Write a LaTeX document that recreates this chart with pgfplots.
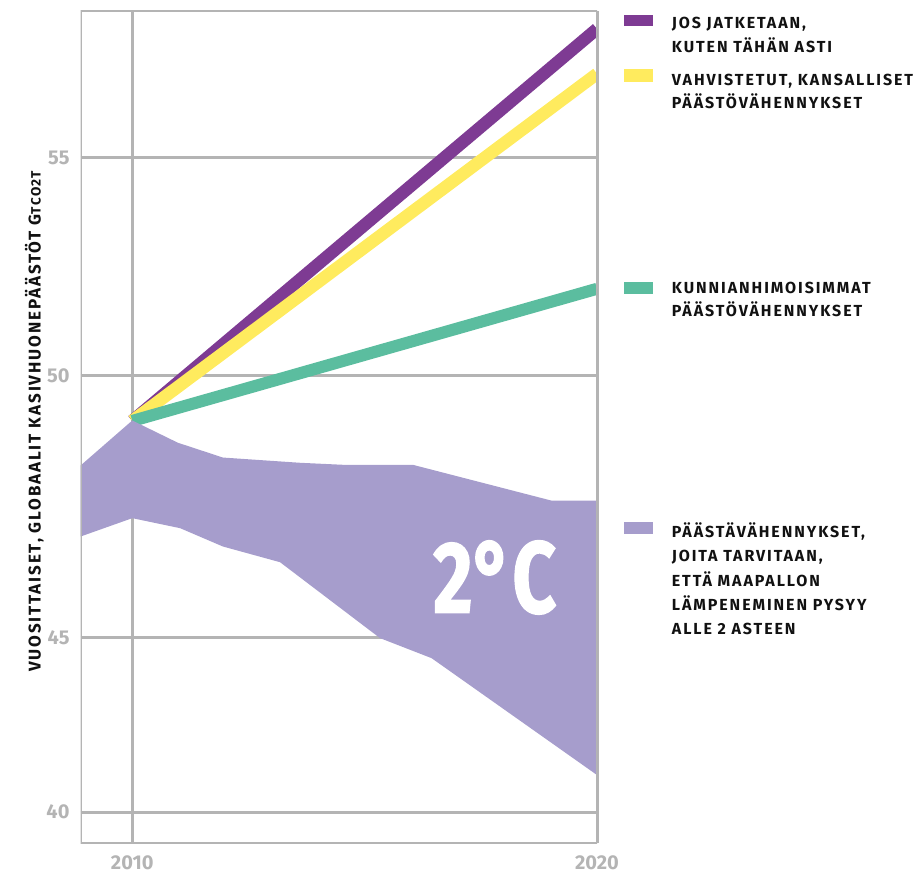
\documentclass[border=0pt]{standalone}
\usepackage{fontspec}
\setmainfont{Fira Sans}
\newfontfamily\lgfont{Fira Sans}[LetterSpace=12]
\newfontfamily\ttlfont{Fira Sans}[LetterSpace=11]
\newfontfamily\heavyfont{Fira Sans}[BoldFeatures={FakeBold=1.5}]
\usepackage{pgfplots}
\pgfplotsset{compat=1.18}

\definecolor{cPurple}{HTML}{7E3B93}
\definecolor{cYellow}{HTML}{FFEB5E}
\definecolor{cGreen}{HTML}{5BBD9F}
\definecolor{cArea}{HTML}{A69DCC}
\definecolor{cGray}{HTML}{B4B4B4}
\definecolor{cText}{HTML}{111111}

\newcommand\lgd{\fontsize{16}{16}\selectfont\bfseries\lgfont\color{cText}}

\begin{document}
\begin{tikzpicture}
\path[use as bounding box] (-80.7pt,-30.5pt) rectangle (835.3pt,843.5pt);
\begin{axis}[
  at={(0,0)}, anchor=south west,
  scale only axis, width=516.3pt, height=832.5pt,
  xmin=2008.89, xmax=2020, ymin=39.28, ymax=58.37,
  xtick={2010,2020}, xticklabels={\mbox{2010},\mbox{2020}},
  ytick={40,44,50,55}, yticklabels={\mbox{40},\mbox{45},\mbox{50},\mbox{55}},
  grid=major, major grid style={cGray, line width=3pt},
  major tick length=0pt,
  axis line style={draw=none},
  yticklabel style={font=\fontsize{20}{20}\selectfont\bfseries, text=cGray,
    anchor=east, inner sep=0pt, xshift=-11pt},
  xticklabel style={font=\fontsize{20}{20}\selectfont\bfseries, text=cGray,
    anchor=north, inner sep=0pt, yshift=-12pt},
]
% scenario lines
\addplot[cPurple, line width=12.5pt] coordinates {(2010,48.97) (2020,57.96)};
\addplot[cYellow, line width=12.5pt] coordinates {(2010,48.97) (2020,56.93)};
\addplot[cGreen, line width=12pt] coordinates {(2010,48.97) (2020,52.00)};

% 2 degree pathway band (upper edge, then lower edge backwards)
\addplot[fill=cArea, draw=none] coordinates {
  (2008.89,47.95) (2010,48.98) (2010.98,48.47) (2011.95,48.13)
  (2013.61,48.01) (2014.61,47.96) (2016.05,47.96) (2019.03,47.14)
  (2020,47.14)
  (2020,40.85) (2016.44,43.53) (2015.33,43.99) (2013.18,45.73)
  (2011.95,46.09) (2011.03,46.51) (2010,46.74) (2008.89,46.32)
} -- cycle;

\draw[cGray, line width=3pt] (rel axis cs:0,0) rectangle (rel axis cs:1,1);

\node[white, inner sep=0pt] at (axis cs:2017.8,45.38)
  {\resizebox{123pt}{72pt}{\heavyfont\bfseries 2°C}};
\end{axis}

% y axis title
\node[rotate=90, inner sep=0pt, anchor=center, text=cText] at (-46.5pt,422pt)
  {\fontsize{17}{17}\selectfont\bfseries\ttlfont VUOSITTAISET, GLOBAALIT KASIVHUONEPÄÄSTÖT G{\fontsize{13.5}{13.5}\selectfont TCO2T}};

% legend swatches
\fill[cPurple] (543.6pt,817.5pt) rectangle (572.6pt,828pt);
\fill[cYellow] (543.6pt,761.8pt) rectangle (572.6pt,774.2pt);
\fill[cGreen]  (543.6pt,549.5pt) rectangle (572.6pt,561.8pt);
\fill[cArea]   (543.6pt,309.2pt) rectangle (572.6pt,321.8pt);

% legend texts (one node per line, at baseline)
\begin{scope}[every node/.style={anchor=base west, inner sep=0pt}]
\node at (591pt,814.5pt) {\lgd JOS JATKETAAN,};
\node at (591pt,790.8pt) {\lgd KUTEN TÄHÄN ASTI};
\node at (591pt,757.5pt) {\lgd VAHVISTETUT, KANSALLISET};
\node at (591pt,734.5pt) {\lgd PÄÄSTÖVÄHENNYKSET};
\node at (591pt,549.5pt) {\lgd KUNNIANHIMOISIMMAT};
\node at (591pt,526.8pt) {\lgd PÄÄSTÖVÄHENNYKSET};
\node at (591pt,305.5pt) {\lgd PÄÄSTÄVÄHENNYKSET,};
\node at (591pt,281.5pt) {\lgd JOITA TARVITAAN,};
\node at (591pt,257pt)   {\lgd ETTÄ MAAPALLON};
\node at (591pt,233pt)   {\lgd LÄMPENEMINEN PYSYY};
\node at (591pt,209pt)   {\lgd ALLE 2 ASTEEN};
\end{scope}
\end{tikzpicture}
\end{document}
